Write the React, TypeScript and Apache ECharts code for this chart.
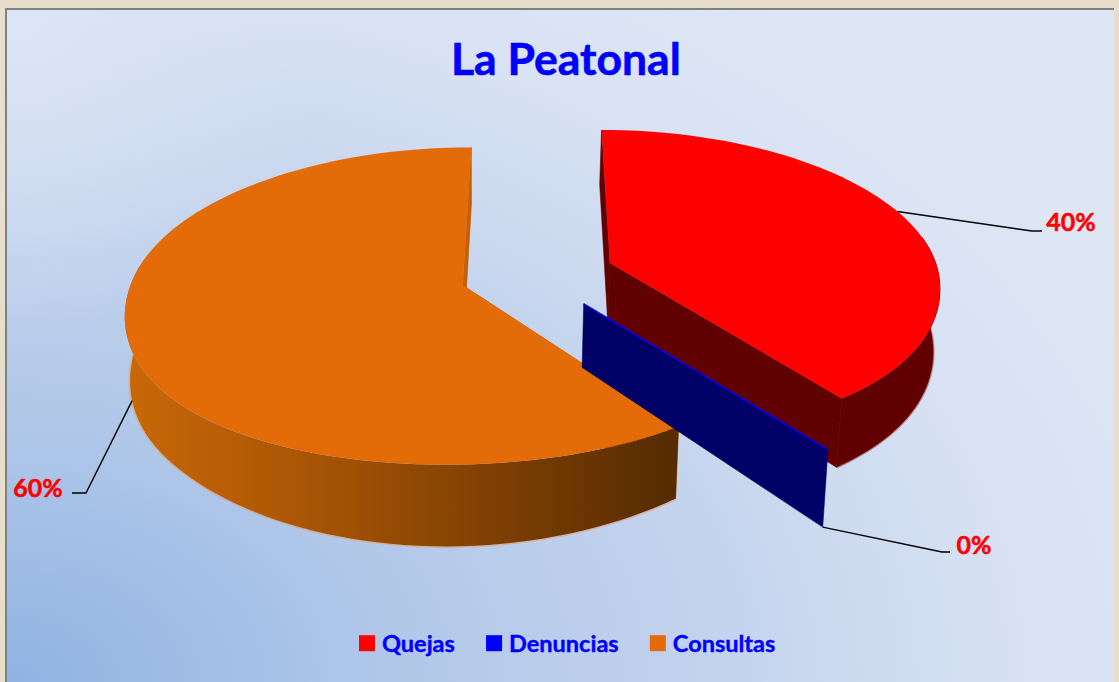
import React, { useEffect, useRef } from "react";
import * as echarts from "echarts";

const titleText = "La Peatonal";
const categories = ["Quejas", "Denuncias", "Consultas"];
const percentValues = [40, 0, 60];

const topColors = ["#FF0000", "#0000FF", "#E36C09"];
const cutColors = ["#600000", "#000066", "#C45F06"];
const fringeColors = ["rgba(175,90,90,0.55)", "rgba(0,0,102,0.3)", "rgba(225,160,110,0.6)"];
const drawOrder = [2, 3, 1];
const leaderAngles = [69, 144, 252];
const leaderOnBase = [false, true, true];
const leaderElbows = [
  [[1032, 231], [1042, 231]],
  [[942, 552], [950, 552]],
  [[86, 493], [72, 493]],
];
const labelAnchors = [
  [1071, 221],
  [974, 544],
  [38, 487],
];

const CX = 537, CY = 274, RX = 329, RY = 153, K = 0.13, DEPTH = 62, EXPLODE = 0.235;
const FONT = "Lato, Carlito, 'Open Sans', sans-serif";

function project(u: number, v: number, z: number) {
  const den = 1 - K * v;
  const widen = v > 0 ? 1 + 0.06 * v * v : 1;
  const x0 = CX + (RX * u * widen) / den;
  const extra = v > 0.7 ? 60 * (v - 0.7) * (v - 0.7) : 0;
  const y = CY + (RY * v + z * (DEPTH + extra)) / den;
  return [x0 - z * 0.015 * (x0 - 480), y];
}

function renderSlice(index: number) {
  return (params: any, api: any) => {
    const total = percentValues.reduce((a, b) => a + b, 0);
    const before = percentValues.slice(0, index).reduce((a, b) => a + b, 0);
    const value = api.value(0) as number;
    const start = (before / total) * 360;
    const end = ((before + value) / total) * 360;
    const mid = (((start + end) / 2) * Math.PI) / 180;
    const ou = EXPLODE * Math.sin(mid);
    const ov = -EXPLODE * Math.cos(mid);
    const rim = (deg: number, z: number) => {
      const a = (deg * Math.PI) / 180;
      return project(ou + Math.sin(a), ov - Math.cos(a), z);
    };
    const sample = (from: number, to: number, z: number) => {
      const steps = Math.max(1, Math.ceil((to - from) / 2));
      const pts: number[][] = [];
      for (let i = 0; i <= steps; i++) pts.push(rim(from + ((to - from) * i) / steps, z));
      return pts;
    };
    const topArc = sample(start, end, 0);
    const wallFrom = Math.max(start, 80);
    const wallTo = Math.min(end, 280);
    const apexTop = project(ou, ov, 0);
    const apexBase = project(ou, ov, 1);
    const children: any[] = [];
    const poly = (points: number[][], style: any) =>
      children.push({ type: "polygon", shape: { points }, style });

    const outerFill =
      index === 2
        ? new echarts.graphic.LinearGradient(0, 0, 1, 0, [
            { offset: 0, color: "#C96808" },
            { offset: 0.35, color: "#A65405" },
            { offset: 0.7, color: "#7A3D03" },
            { offset: 1, color: "#552B02" },
          ])
        : cutColors[index];

    const cutStyle = { fill: cutColors[index], stroke: cutColors[index], lineWidth: 0.6 };
    if (value > 0) {
      const wallBase = sample(wallFrom, wallTo, 1);
      children.push({
        type: "polyline",
        shape: { points: wallBase },
        style: { stroke: fringeColors[index], lineWidth: 3, fill: "none" },
      });
      poly([apexTop, rim(start, 0), rim(start, 1), apexBase], cutStyle);
      poly([apexTop, rim(end, 0), rim(end, 1), apexBase], cutStyle);
      poly([...sample(wallFrom, wallTo, 0), ...wallBase.slice().reverse()], {
        fill: outerFill,
        stroke: index === 2 ? undefined : cutColors[index],
        lineWidth: 0.6,
      });
      poly([apexTop, ...topArc], { fill: topColors[index] });
    } else {
      poly([apexTop, rim(start, 0), rim(start, 1), apexBase], cutStyle);
      children.push({
        type: "line",
        shape: { x1: apexTop[0], y1: apexTop[1], x2: topArc[0][0], y2: topArc[0][1] },
        style: { stroke: topColors[index], lineWidth: 1.5 },
      });
    }

    const anchor = rim(leaderAngles[index], leaderOnBase[index] ? 1 : 0);
    children.push({
      type: "polyline",
      shape: { points: [anchor, ...leaderElbows[index]] },
      style: { stroke: "#000000", lineWidth: 1.4, fill: "none" },
    });
    children.push({
      type: "text",
      x: labelAnchors[index][0],
      y: labelAnchors[index][1],
      style: {
        text: `${value}%`,
        fill: "#FF0000",
        stroke: "#FF0000",
        lineWidth: 0.5,
        font: `bold 25px ${FONT}`,
        align: "center",
        verticalAlign: "middle",
      },
    });
    return { type: "group", children };
  };
}

export default function App() {
  const ref = useRef<HTMLDivElement>(null);
  useEffect(() => {
    const chart = echarts.init(ref.current!, undefined, { renderer: "svg" });
    chart.setOption({
      animation: false,
      backgroundColor: "transparent",
      title: {
        text: titleText,
        left: 451,
        top: 35,
        padding: 0,
        textStyle: {
          color: "#0000FF",
          fontFamily: FONT,
          fontWeight: "bold",
          fontSize: 44.5,
          textBorderColor: "#0000FF",
          textBorderWidth: 0.6,
        },
      },
      legend: {
        left: 359,
        top: 631,
        padding: 0,
        icon: "rect",
        itemWidth: 16,
        itemHeight: 16,
        itemGap: 31,
        data: categories,
        textStyle: {
          color: "#0000FF",
          fontFamily: FONT,
          fontWeight: "bold",
          fontSize: 23.5,
          padding: [0, 0, 0, 2],
          textBorderColor: "#0000FF",
          textBorderWidth: 0.4,
        },
      },
      series: categories.map((name, i) => ({
        type: "custom",
        name,
        coordinateSystem: "none",
        silent: true,
        z: drawOrder[i],
        itemStyle: { color: topColors[i] },
        data: [percentValues[i]],
        renderItem: renderSlice(i),
      })),
    });
    return () => chart.dispose();
  }, []);
  return (
    <div style={{ position: "fixed", left: 0, top: 0, width: 1119, height: 682, overflow: "hidden", background: "#E7DFCB" }}>
      <div
        style={{
          position: "absolute",
          left: 5,
          top: 8,
          width: 1109,
          height: 674,
          boxSizing: "border-box",
          borderLeft: "2px solid #808080",
          borderTop: "2px solid #808080",
          background:
            "radial-gradient(circle 330px at 0 0, #DCE5F5 0%, rgba(220,229,245,0) 100%), radial-gradient(ellipse 1250px 850px at 0 100%, #8FB3E2 0%, #B0C7E9 30%, #C2D2ED 55%, #D8E2F3 82%, #DEE6F4 100%)",
        }}
      />
      <div ref={ref} style={{ position: "absolute", left: 0, top: 0, width: 1119, height: 682 }} />
    </div>
  );
}
